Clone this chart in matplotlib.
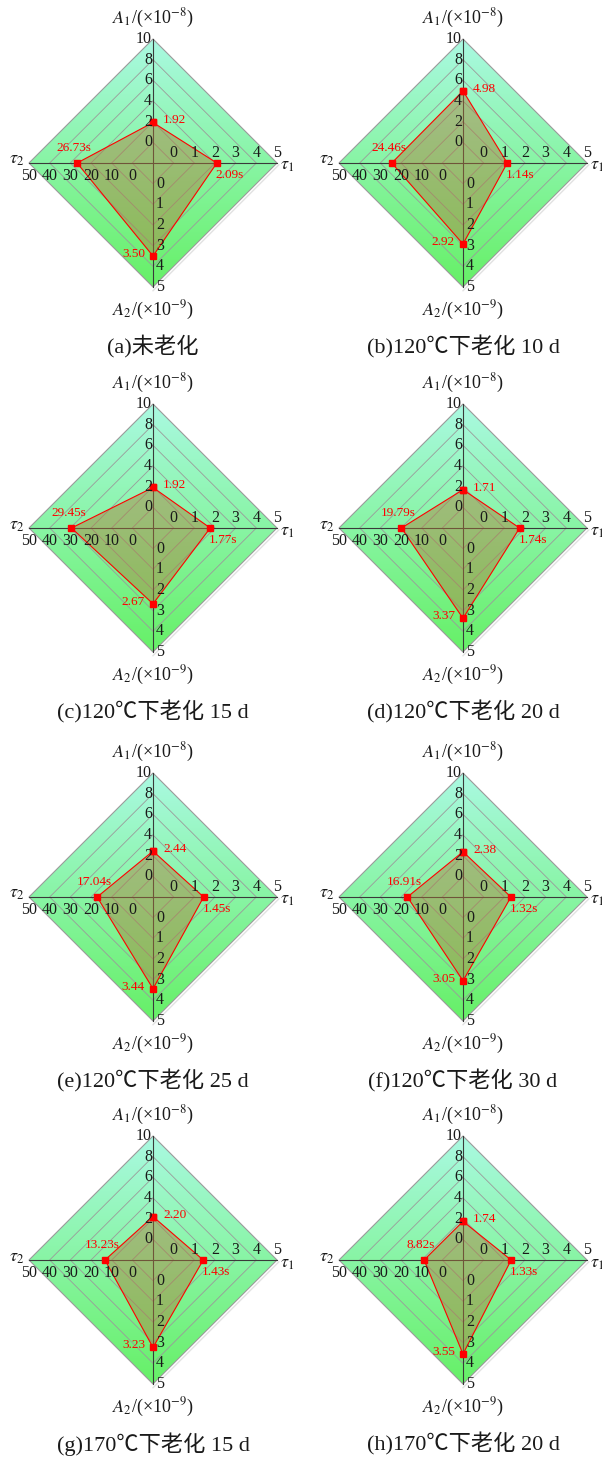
import numpy as np
import matplotlib
matplotlib.use('Agg')
import matplotlib.pyplot as plt
from matplotlib.patches import Polygon
from matplotlib.colors import to_rgb

plt.rcParams['mathtext.fontset'] = 'stix'
plt.rcParams['font.family'] = ['Liberation Serif', 'Noto Sans CJK SC']

# fitted parameters for each ageing condition
captions = ['(a)未老化', '(b)120℃下老化 10 d', '(c)120℃下老化 15 d', '(d)120℃下老化 20 d',
            '(e)120℃下老化 25 d', '(f)120℃下老化 30 d', '(g)170℃下老化 15 d', '(h)170℃下老化 20 d']
a1_vals = [1.92, 4.98, 1.92, 1.71, 2.44, 2.38, 2.20, 1.74]
tau1_vals = [2.09, 1.14, 1.77, 1.74, 1.45, 1.32, 1.43, 1.33]
a2_vals = [3.50, 2.92, 2.67, 3.37, 3.44, 3.05, 3.23, 3.55]
tau2_vals = [26.73, 24.46, 29.45, 19.79, 17.04, 16.91, 13.23, 8.82]

a1_ticks = [0, 2, 4, 6, 8, 10]
tau1_ticks = [0, 1, 2, 3, 4, 5]
a2_ticks = [0, 1, 2, 3, 4, 5]
tau2_ticks = [0, 10, 20, 30, 40, 50]

W, H = 602, 1458
R = 124.0          # pixel length of one axis
PT = 0.72          # pixels -> points at dpi 100


def radius(v, ticks):
    # the centre sits one tick step below the first tick
    step = ticks[1] - ticks[0]
    lo = ticks[0] - step
    return (v - lo) / (ticks[-1] - lo)


def draw_panel(ax, k):
    ax.set_xlim(-150 / R, 150 / R)
    ax.set_ylim(-182 / R, 182 / R)
    ax.axis('off')

    # gradient background clipped to the outer diamond
    outer = Polygon([(0, 1), (1, 0), (0, -1), (-1, 0)], closed=True,
                    facecolor='none', edgecolor='#9a9a9a', lw=0.8, zorder=2)
    ax.add_patch(outer)
    top = np.array(to_rgb('#aaf9e2'))
    bot = np.array(to_rgb('#66f066'))
    t = np.linspace(0, 1, 256)[:, None, None]
    grad = top * (1 - t) + bot * t
    im = ax.imshow(grad, extent=(-1, 1, -1, 1), aspect='auto', zorder=0,
                   interpolation='bilinear')
    im.set_clip_path(outer)
    ax.plot([1.015, 0.0], [-0.015, -1.03], color='#e2e2e2', lw=1.0, zorder=1)

    # inner rings
    for j in range(1, 6):
        r = j / 6
        ax.plot([0, r, 0, -r, 0], [r, 0, -r, 0, r], color='#9a9a9a', lw=0.6, zorder=2)

    # axes cross
    ax.plot([-1, 1], [0, 0], color='#3a3a3a', lw=0.8, zorder=3)
    ax.plot([0, 0], [-1, 1], color='#3a3a3a', lw=0.8, zorder=3)

    # data polygon
    ra1 = radius(a1_vals[k], a1_ticks)
    rt1 = radius(tau1_vals[k], tau1_ticks)
    ra2 = radius(a2_vals[k], a2_ticks)
    rt2 = radius(tau2_vals[k], tau2_ticks)
    xs = [0, rt1, 0, -rt2]
    ys = [ra1, 0, -ra2, 0]
    ax.add_patch(Polygon(list(zip(xs, ys)), closed=True, facecolor='#b07838',
                         alpha=0.45, edgecolor='none', zorder=4))
    ax.plot(xs + [xs[0]], ys + [ys[0]], color='red', lw=0.8, marker='s',
            markersize=4.5, zorder=5)

    # tick labels
    tk = dict(fontsize=11.5, color='#1a1a1a', zorder=6)
    for v in a1_ticks:
        ax.annotate(str(v), (0, radius(v, a1_ticks)), xytext=(-1 * PT, 0),
                    textcoords='offset points', ha='right', va='center', **tk)
    for v in tau1_ticks:
        ax.annotate(str(v), (radius(v, tau1_ticks), 0), xytext=(0, 10 * PT),
                    textcoords='offset points', ha='center', va='center', **tk)
    for v in a2_ticks:
        ax.annotate(str(v), (0, -radius(v, a2_ticks)), xytext=(3 * PT, 0),
                    textcoords='offset points', ha='left', va='center', **tk)
    for v in tau2_ticks:
        ax.annotate(str(v), (-radius(v, tau2_ticks), 0), xytext=(0, -13 * PT),
                    textcoords='offset points', ha='center', va='center', **tk)

    # axis titles
    tt = dict(fontsize=13, color='#1a1a1a', textcoords='offset points')
    ax.annotate(r'$A_1$/(×10$^{-8}$)', (0, 1), xytext=(0, 21 * PT),
                ha='center', va='center', **tt)
    ax.annotate(r'$A_2$/(×10$^{-9}$)', (0, -1), xytext=(0, -23 * PT),
                ha='center', va='center', **tt)
    ax.annotate(r'$\tau_1$', (1, 0), xytext=(3 * PT, -3 * PT),
                ha='left', va='center', **tt)
    ax.annotate(r'$\tau_2$', (-1, 0), xytext=(-5 * PT, 3 * PT),
                ha='right', va='center', **tt)

    # value labels
    vl = dict(fontsize=9.5, color='red', textcoords='offset points', zorder=7)
    ax.annotate(f'{a1_vals[k]:.2f}', (0, ra1), xytext=(10 * PT, 2 * PT),
                ha='left', va='center', **vl)
    ax.annotate(f'{tau1_vals[k]:.2f}s', (rt1, 0), xytext=(-1 * PT, -12 * PT),
                ha='left', va='center', **vl)
    ax.annotate(f'{a2_vals[k]:.2f}', (0, -ra2), xytext=(-8 * PT, 2 * PT),
                ha='right', va='center', **vl)
    ax.annotate(f'{tau2_vals[k]:.2f}s', (-rt2, 0), xytext=(-3 * PT, 15 * PT),
                ha='center', va='center', **vl)


fig = plt.figure(figsize=(W / 100, H / 100), dpi=100)
fig.patch.set_facecolor('white')

col_x = [153, 463]
row_y = [163, 528, 897, 1260]

for k in range(8):
    cx = col_x[k % 2]
    cy = row_y[k // 2]
    ax = fig.add_axes([(cx - 150) / W, (H - cy - 182) / H, 300 / W, 364 / H])
    draw_panel(ax, k)
    fig.text(cx / W, 1 - (cy + 184) / H, captions[k], ha='center', va='center',
             fontsize=16, color='#1a1a1a')

fig.savefig('out.png', dpi=100)
